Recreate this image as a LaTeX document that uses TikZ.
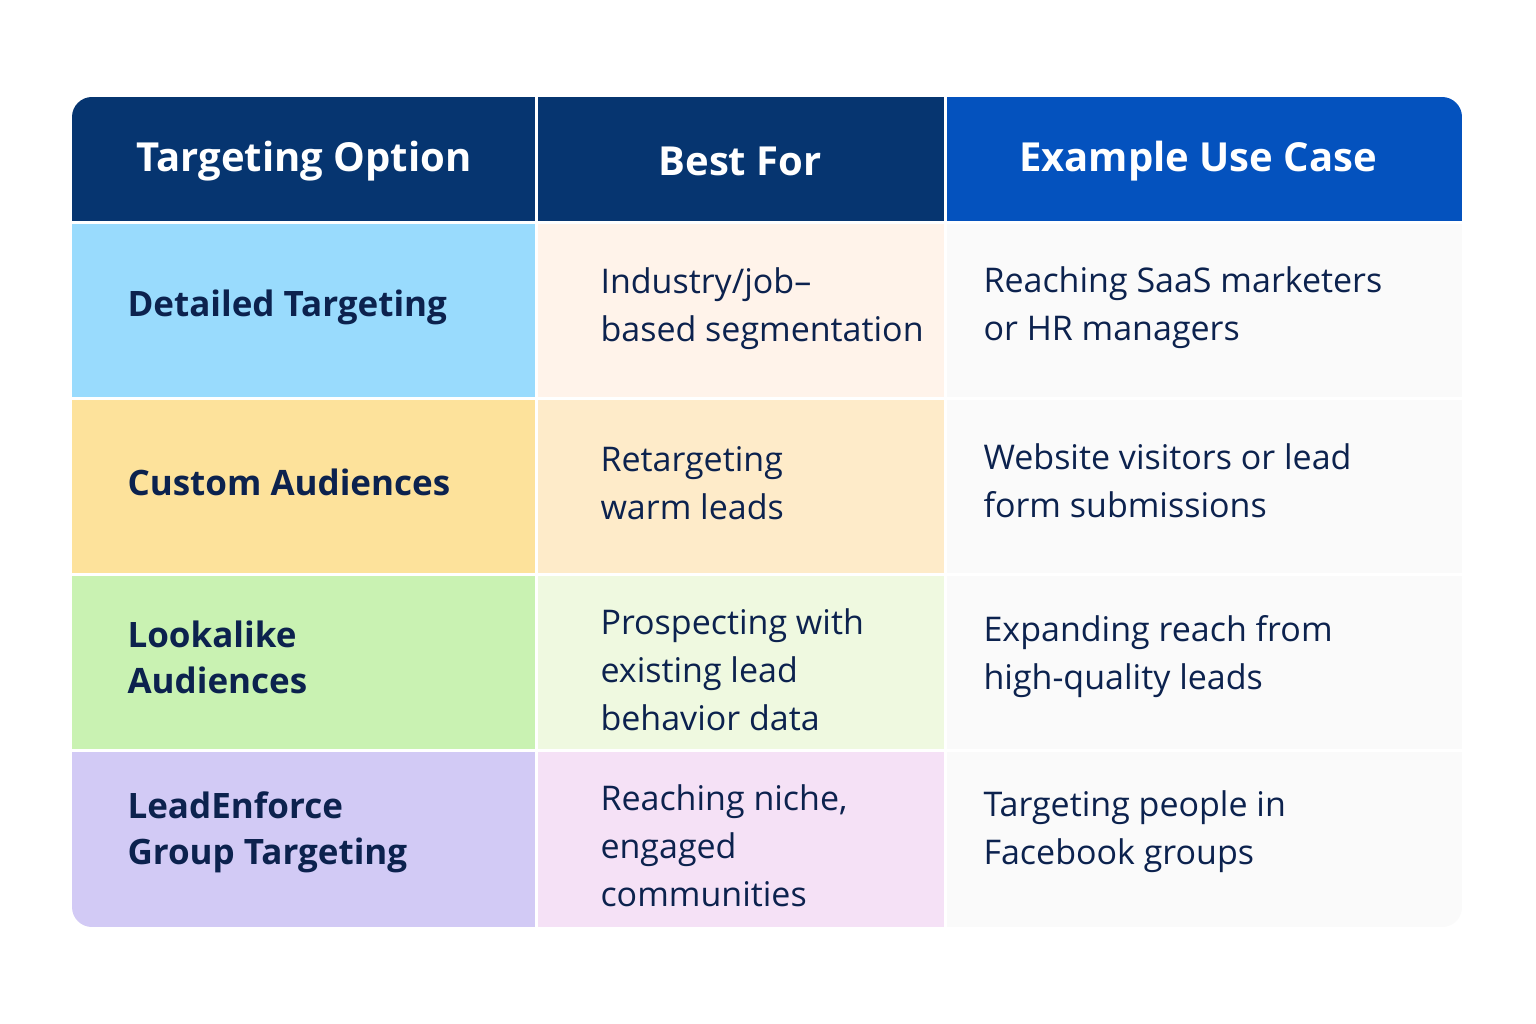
\documentclass[tikz,border=0pt]{standalone}
\usepackage{fontspec}
\setmainfont{Open Sans}
\definecolor{navy}{HTML}{063570}
\definecolor{blue3}{HTML}{0452BE}
\definecolor{ink}{HTML}{0C224E}
\definecolor{ra}{HTML}{99DBFD}\definecolor{rb}{HTML}{FFF3EA}
\definecolor{sa}{HTML}{FDE29B}\definecolor{sb}{HTML}{FEEBC9}
\definecolor{ta}{HTML}{C9F2B2}\definecolor{tb}{HTML}{EFF9E0}
\definecolor{ua}{HTML}{D2CAF5}\definecolor{ub}{HTML}{F5E1F6}
\definecolor{cc}{HTML}{FAFAFA}
\begin{document}
\begin{tikzpicture}[x=1pt,y=-1pt,
  hd/.style={font=\fontsize{40}{46}\selectfont\bfseries,text=white,anchor=center},
  lab/.style={font=\fontsize{35}{46}\selectfont\bfseries,text=ink,anchor=west,align=left},
  txt/.style={font=\fontsize{34}{48}\selectfont,text=ink,anchor=west,align=left}]
\useasboundingbox (0,0) rectangle (1536,1024);
\fill[white] (0,0) rectangle (1536,1024);
\begin{scope}
\clip[rounded corners=20pt] (72,97) rectangle (1462,927);
\fill[white] (72,97) rectangle (1462,927);
\fill[navy] (72,97) rectangle (535,221);
\fill[navy] (538,97) rectangle (944,221);
\fill[blue3] (947,97) rectangle (1462,221);
\fill[ra] (72,224) rectangle (535,397);
\fill[rb] (538,224) rectangle (944,397);
\fill[cc] (947,224) rectangle (1462,397);
\fill[sa] (72,400) rectangle (535,573);
\fill[sb] (538,400) rectangle (944,573);
\fill[cc] (947,400) rectangle (1462,573);
\fill[ta] (72,576) rectangle (535,749);
\fill[tb] (538,576) rectangle (944,749);
\fill[cc] (947,576) rectangle (1462,749);
\fill[ua] (72,752) rectangle (535,927);
\fill[ub] (538,752) rectangle (944,927);
\fill[cc] (947,752) rectangle (1462,927);
\end{scope}
\node[hd] (h1) at (304,161) {Targeting Option};
\node[hd] (h2) at (740,161) {Best For};
\node[hd] (h3) at (1198,161) {Example Use Case};
\node[lab] (a1) at (124,307) {Detailed Targeting};
\node[lab] (a2) at (124,482) {Custom Audiences};
\node[lab] (a3) at (124,657) {Lookalike\\Audiences};
\node[lab] (a4) at (124,832) {LeadEnforce\\Group Targeting};
\node[txt] (b1) at (597,309) {Industry/job–\\based segmentation};
\node[txt] (b2) at (597,483) {Retargeting\\warm leads};
\node[txt] (b3) at (597,670) {Prospecting with\\existing lead\\behavior data};
\node[txt] (b4) at (597,846) {Reaching niche,\\engaged\\communities};
\node[txt] (c1) at (980,308) {Reaching SaaS marketers\\or HR managers};
\node[txt] (c2) at (980,481) {Website visitors or lead\\form submissions};
\node[txt] (c3) at (980,657) {Expanding reach from\\high-quality leads};
\node[txt] (c4) at (980,832) {Targeting people in\\Facebook groups};
\end{tikzpicture}
\end{document}
